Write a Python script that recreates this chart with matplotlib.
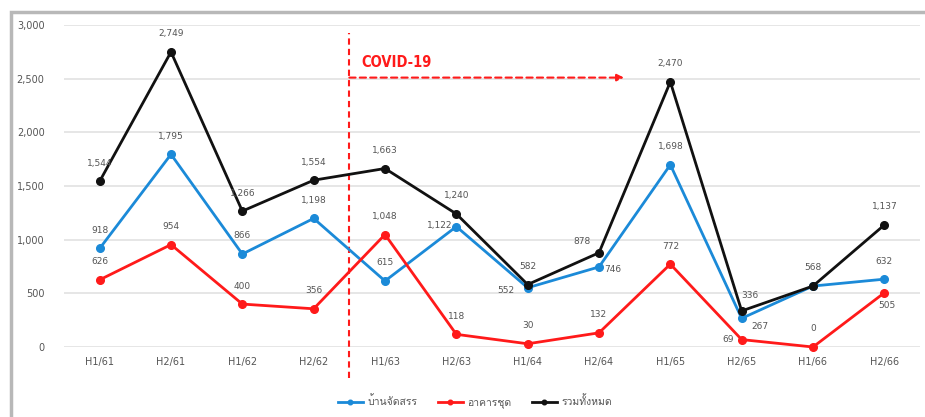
import matplotlib
matplotlib.use("Agg")
import matplotlib.pyplot as plt
from matplotlib import font_manager
from matplotlib.ft2font import FT2Font
from matplotlib.patches import Rectangle

# Half-year housing data (units)
periods = ["H1/61", "H2/61", "H1/62", "H2/62", "H1/63", "H2/63",
           "H1/64", "H2/64", "H1/65", "H2/65", "H1/66", "H2/66"]
housing = [918, 1795, 866, 1198, 615, 1122, 552, 746, 1698, 267, 568, 632]
condo = [626, 954, 400, 356, 1048, 118, 30, 132, 772, 69, 0, 505]
total = [1544, 2749, 1266, 1554, 1663, 1240, 582, 878, 2470, 336, 568, 1137]
series_names = ["บ้านจัดสรร", "อาคารชุด", "รวมทั้งหมด"]
y_ticks = [0, 500, 1000, 1500, 2000, 2500, 3000]


def thai_family():
    for f in font_manager.fontManager.ttflist:
        try:
            ft = FT2Font(f.fname)
            if ft.get_char_index(ord("บ")) and ft.get_char_index(ord("ั")):
                return f.name
        except Exception:
            continue
    return "DejaVu Sans"


thai = thai_family()
plt.rcParams["font.family"] = ["DejaVu Sans", thai]

fig = plt.figure(figsize=(9.25, 4.17), dpi=100)
ax = fig.add_axes([64 / 925, 1 - 347 / 417, 856 / 925, 322 / 417])

# outer frame
fig.patches.append(Rectangle((11 / 925, -0.1), 1.2, (417 - 12) / 417 + 0.1,
                             transform=fig.transFigure, fill=False,
                             edgecolor="#b8b8b8", linewidth=2.5))

x = list(range(len(periods)))
blue, red, black = "#1b8ad8", "#ff1a1a", "#111111"
kw = dict(linewidth=2, marker="o", markersize=5.5, clip_on=False, zorder=3)
ax.plot(x, housing, color=blue, label=series_names[0], **kw)
ax.plot(x, condo, color=red, label=series_names[1], **kw)
ax.plot(x, total, color=black, label=series_names[2], **kw)

ax.set_xlim(-0.5, 11.5)
ax.set_ylim(0, 3000)
ax.set_yticks(y_ticks)
ax.set_yticklabels([f"{v:,}" for v in y_ticks])
ax.set_xticks(x)
ax.set_xticklabels(periods)
ax.tick_params(axis="both", length=0, labelsize=7, colors="#555555")
ax.tick_params(axis="x", pad=7)
ax.tick_params(axis="y", pad=14)
ax.grid(axis="y", color="#e6e6e6", linewidth=1.4)
ax.set_axisbelow(True)
for s in ax.spines.values():
    s.set_visible(False)

# label offsets in points (dx, dy)
lab_col = "#555555"
off_total = [(0, 13)] * 12
off_total[7] = (-12, 8)
off_total[9] = (6, 11)
off_housing = [(0, 13)] * 12
off_housing[5] = (-12, 1)
off_housing[6] = (-16, -2)
off_housing[7] = (10, -2)
off_housing[9] = (13, -6)
off_condo = [(0, 13)] * 12
off_condo[9] = (-10, 0)
off_condo[11] = (2, -9)


def put_labels(vals, offs, skip=()):
    for i, (v, (dx, dy)) in enumerate(zip(vals, offs)):
        if i in skip:
            continue
        ax.annotate(f"{v:,}", (i, v), xytext=(dx, dy), textcoords="offset points",
                    ha="center", va="center", fontsize=6.5, color=lab_col,
                    annotation_clip=False, zorder=4)


put_labels(total, off_total)
put_labels(housing, off_housing, skip=(10,))
put_labels(condo, off_condo)

# COVID-19 marker
ax.plot([3.5, 3.5], [-290, 2925], color="#ff1a1a", linestyle=(0, (3, 2)),
        linewidth=1.5, clip_on=False, zorder=2)
ax.annotate("", xy=(7.35, 2510), xytext=(3.5, 2510),
            arrowprops=dict(arrowstyle="-|>", color="#ff1a1a", linewidth=1.5,
                            linestyle=(0, (3, 2)), mutation_scale=10,
                            shrinkA=0, shrinkB=0))
ax.text(3.67, 2655, "COVID-19", color="#ff1a1a", fontsize=10.5,
        fontweight="bold", ha="left", va="center", stretch="condensed")

leg = ax.legend(loc="center", bbox_to_anchor=(0.48, -0.17), ncol=3,
                frameon=False, fontsize=7.5, handlelength=2.4,
                columnspacing=2.0, handletextpad=0.4, markerscale=0.6)
for t in leg.get_texts():
    t.set_color("#555555")
    t.set_family([thai, "DejaVu Sans"])

fig.savefig("out.png", dpi=100)
